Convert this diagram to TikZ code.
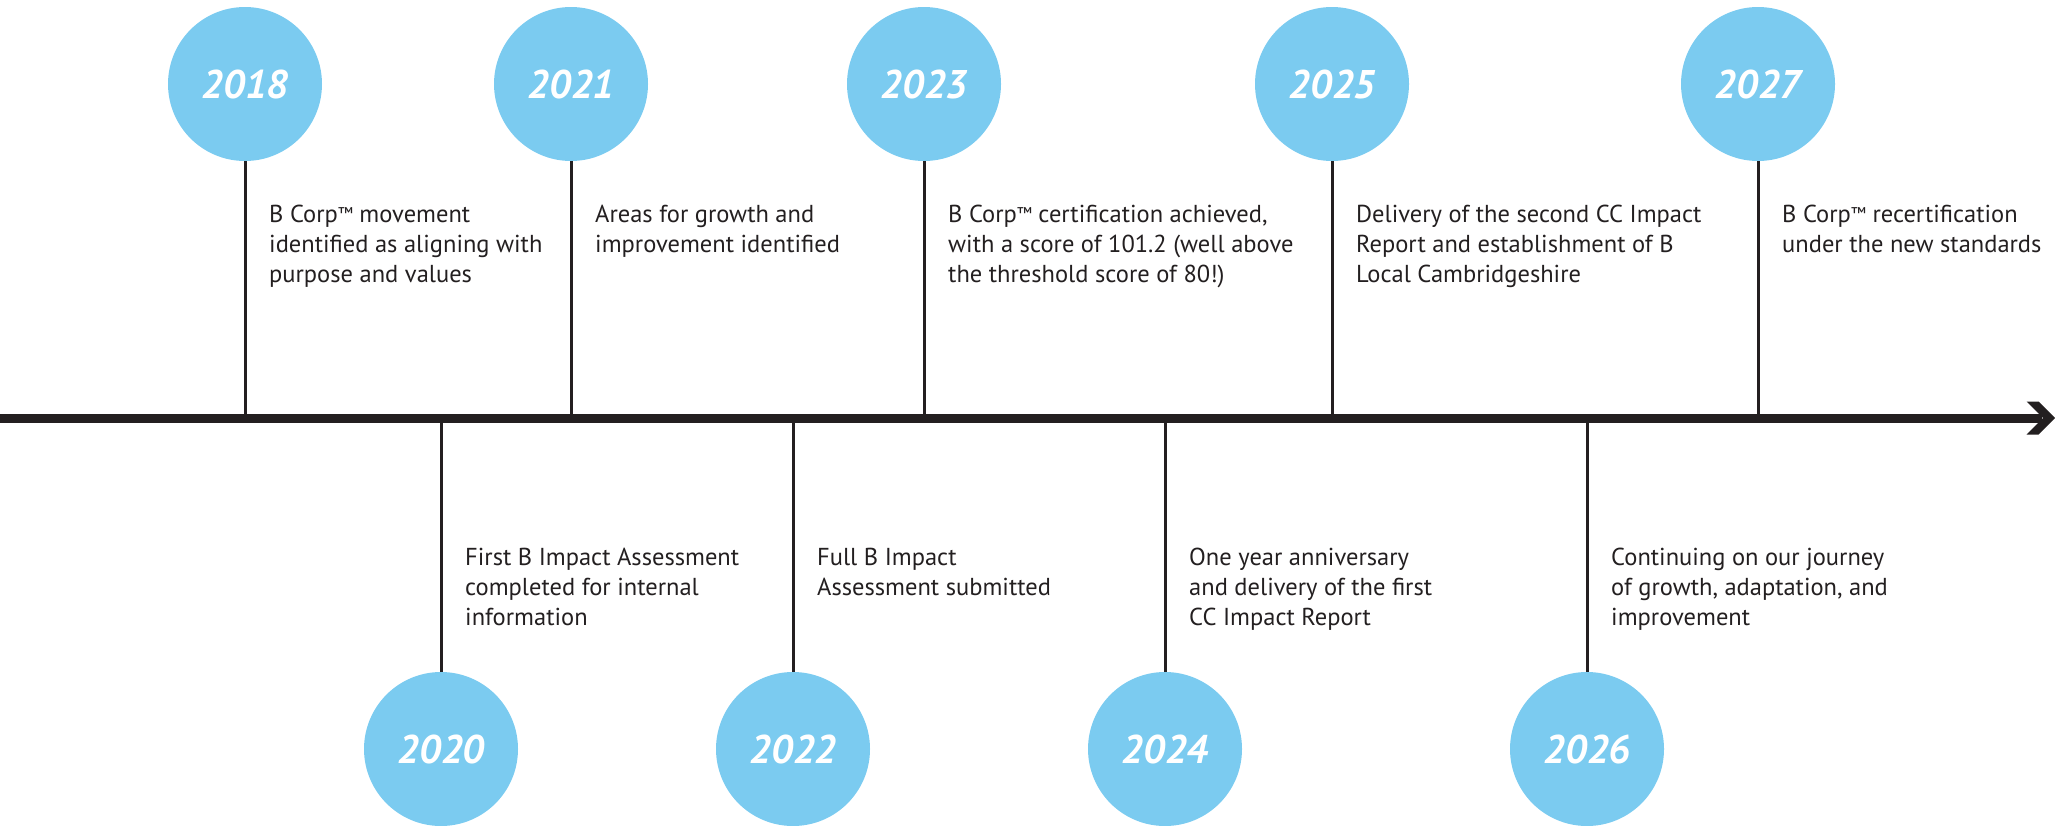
\documentclass[tikz,border=0pt]{standalone}
\usepackage{fontspec}
\setmainfont{PT Sans}
\definecolor{dotblue}{RGB}{123,203,240}
\definecolor{inkline}{RGB}{35,31,32}
% smaller trade mark sign, top kept at cap height
\newcommand\tmsign{{\fontsize{17}{17}\selectfont\raisebox{3pt}{™}}}
\begin{document}
\begin{tikzpicture}[x=1pt,y=-1pt,
  yearball/.style={circle, fill=dotblue, minimum size=154pt, inner sep=0pt,
    text=white, font=\fontsize{40}{40}\selectfont\bfseries\itshape},
  stem/.style={draw=inkline, line width=3pt},
  axisline/.style={draw=inkline, line width=9pt},
  note/.style={anchor=base west, inner sep=0pt, text=inkline,
    font=\fontsize{24.5}{30}\selectfont}
]
\useasboundingbox (0,0) rectangle (2055,825);

% time axis
\coordinate (axL) at (0,418);
\coordinate (axE) at (2042,418);
\draw[axisline] (axL) -- (axE);
\fill[inkline] (2026.7,401.5) -- (2038.5,401.5) -- (2055,418) -- (2038.5,434.5)
  -- (2026.7,434.5) -- (2043.2,418) -- cycle;

% year markers above the axis
\foreach \yr/\x in {2018/245, 2021/571, 2023/924, 2025/1332, 2027/1758}
  \node[yearball] (y\yr) at (\x,84) {\yr};
% year markers below the axis
\foreach \yr/\x in {2020/441, 2022/793, 2024/1165, 2026/1587}
  \node[yearball] (y\yr) at (\x,749) {\yr};

% stems
\foreach \yr in {2018,2021,2023,2025,2027}
  \draw[stem] (y\yr.south) -- (y\yr.south |- axL);
\foreach \yr in {2020,2022,2024,2026}
  \draw[stem] (y\yr.north) -- (y\yr.north |- axL);

% milestone notes
\node[note] (t2018) at (269,222) {\begin{tabular}[t]{@{}l@{}}B Corp\tmsign{} movement\\identified as aligning with\\purpose and values\end{tabular}};
\node[note] (t2021) at (595,222) {\begin{tabular}[t]{@{}l@{}}Areas for growth and\\improvement identified\end{tabular}};
\node[note] (t2023) at (948,222) {\begin{tabular}[t]{@{}l@{}}B Corp\tmsign{} certification achieved,\\with a score of 101.2 (well above\\the threshold score of 80!)\end{tabular}};
\node[note] (t2025) at (1356,222) {\begin{tabular}[t]{@{}l@{}}Delivery of the second CC Impact\\Report and establishment of B\\Local Cambridgeshire\end{tabular}};
\node[note] (t2027) at (1782,222) {\begin{tabular}[t]{@{}l@{}}B Corp\tmsign{} recertification\\under the new standards\end{tabular}};

\node[note] (t2020) at (465,565) {\begin{tabular}[t]{@{}l@{}}First B Impact Assessment\\completed for internal\\information\end{tabular}};
\node[note] (t2022) at (817,565) {\begin{tabular}[t]{@{}l@{}}Full B Impact\\Assessment submitted\end{tabular}};
\node[note] (t2024) at (1189,565) {\begin{tabular}[t]{@{}l@{}}One year anniversary\\and delivery of the first\\CC Impact Report\end{tabular}};
\node[note] (t2026) at (1611,565) {\begin{tabular}[t]{@{}l@{}}Continuing on our journey\\of growth, adaptation, and\\improvement\end{tabular}};
\end{tikzpicture}
\end{document}
